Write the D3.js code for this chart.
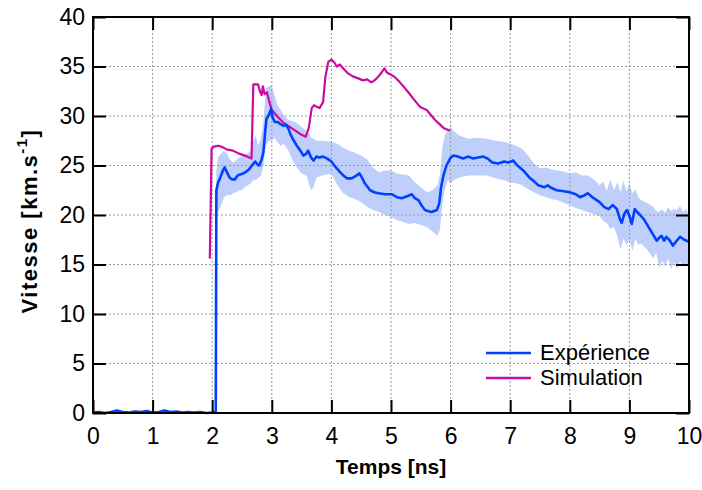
<!DOCTYPE html>
<html><head><meta charset="utf-8">
<script src="https://cdn.jsdelivr.net/npm/d3@7"></script>
<style>
html,body{margin:0;padding:0;background:#fff;}
svg{display:block;font-family:"Liberation Sans",Arial,sans-serif;}
</style></head>
<body><svg id="c" width="702" height="490"></svg>
<script>
// ---- data ----
const xTicks = [0,1,2,3,4,5,6,7,8,9,10];
const yTicks = [0,5,10,15,20,25,30,35,40];
const seriesNames = ["Expérience","Simulation"];

const expT = [0.00,0.10,0.20,0.30,0.40,0.50,0.60,0.70,0.80,0.90,1.00,1.10,1.20,1.30,1.40,1.50,1.60,1.70,1.80,1.90,2.00,2.06,2.07,2.10,2.13,2.18,2.21,2.24,2.29,2.33,2.38,2.43,2.47,2.52,2.55,2.60,2.63,2.68,2.72,2.76,2.79,2.83,2.86,2.89,2.91,2.95,2.99,3.01,3.05,3.10,3.14,3.20,3.24,3.28,3.31,3.36,3.42,3.48,3.53,3.58,3.61,3.66,3.70,3.75,3.80,3.86,3.93,4.00,4.05,4.09,4.15,4.20,4.26,4.34,4.40,4.47,4.52,4.56,4.65,4.72,4.79,4.90,5.01,5.10,5.18,5.27,5.35,5.40,5.46,5.52,5.57,5.62,5.68,5.77,5.81,5.84,5.88,5.93,6.00,6.05,6.12,6.21,6.30,6.38,6.46,6.55,6.62,6.70,6.80,6.90,6.97,7.05,7.12,7.22,7.32,7.40,7.47,7.57,7.63,7.67,7.78,7.90,8.00,8.10,8.17,8.25,8.30,8.40,8.50,8.58,8.65,8.72,8.79,8.84,8.87,8.92,8.96,9.00,9.04,9.09,9.13,9.18,9.25,9.32,9.40,9.46,9.50,9.54,9.58,9.62,9.68,9.73,9.78,9.85,9.92,10.0];
const expV = [0.05,0.1,0.0,0.1,0.25,0.1,0.05,0.15,0.1,0.2,0.05,0.1,0.25,0.1,0.15,0.05,0.1,0.05,0.1,0.0,0.05,0.1,22.5,23.3,23.7,24.5,24.8,24.4,23.8,23.6,23.6,24.0,24.1,24.2,24.3,24.5,24.7,25.1,25.4,25.1,25.0,25.6,26.4,28.5,29.7,30.1,30.7,29.9,29.4,29.4,29.2,29.0,29.1,28.7,28.2,27.6,27.0,26.5,26.0,26.2,26.5,25.8,25.5,25.9,25.8,25.9,25.7,25.4,25.0,24.7,24.3,24.0,23.7,23.7,23.9,24.2,23.7,23.2,22.5,22.3,22.2,22.1,22.1,21.8,21.7,21.9,22.1,21.7,21.5,20.9,20.5,20.4,20.3,20.5,21.2,22.8,24.0,25.0,25.8,26.0,25.9,25.7,25.9,25.7,25.8,25.9,25.7,25.3,25.2,25.4,25.3,25.5,25.0,24.5,23.8,23.4,23.0,22.8,23.0,22.8,22.5,22.4,22.3,22.1,21.8,22.0,22.2,21.7,21.3,20.8,20.6,21.0,20.6,19.6,19.2,20.2,20.5,19.9,19.1,20.6,20.3,20.0,19.5,18.8,18.0,17.4,17.7,17.9,17.4,17.8,17.4,16.9,17.3,17.8,17.5,17.3];

const bandT  = [2.07,2.10,2.15,2.20,2.25,2.30,2.35,2.40,2.45,2.50,2.55,2.60,2.65,2.70,2.73,2.77,2.82,2.86,2.90,2.95,3.00,3.05,3.10,3.15,3.20,3.28,3.35,3.42,3.50,3.58,3.63,3.66,3.70,3.75,3.85,4.00,4.10,4.20,4.30,4.40,4.50,4.60,4.70,4.80,4.90,5.00,5.10,5.20,5.30,5.40,5.50,5.60,5.70,5.78,5.82,5.86,5.90,5.95,6.00,6.05,6.15,6.30,6.45,6.60,6.75,6.90,7.00,7.10,7.20,7.30,7.40,7.50,7.60,7.70,7.80,7.90,8.00,8.10,8.20,8.30,8.40,8.50,8.56,8.62,8.68,8.74,8.80,8.85,8.90,8.95,9.00,9.05,9.10,9.15,9.20,9.30,9.40,9.45,9.50,9.55,9.60,9.65,9.70,9.75,9.80,9.85,9.90,9.95,10.0];
const bandLo = [20.0,20.3,21.0,21.8,22.0,22.0,22.2,22.3,22.5,22.5,22.8,23.0,23.2,23.6,23.5,23.7,24.0,25.0,27.0,27.5,27.5,27.8,27.3,27.0,27.2,26.5,25.5,24.8,24.2,24.0,23.0,22.5,22.8,23.8,24.0,24.2,23.0,22.2,21.8,21.6,21.3,20.8,20.5,20.3,20.0,19.8,19.5,19.3,19.1,19.2,19.0,18.8,18.3,17.9,18.5,21.0,22.5,23.5,23.2,23.5,23.8,24.0,24.0,24.0,23.7,23.5,23.3,23.2,23.0,22.6,22.3,22.0,21.8,21.6,21.5,21.2,21.0,20.7,20.5,20.3,20.1,19.9,19.4,19.2,18.6,18.8,17.8,16.5,17.6,17.0,17.5,16.4,17.6,17.0,17.1,16.5,15.6,16.2,14.7,15.4,14.8,15.6,14.5,15.2,14.6,15.3,14.8,15.1,14.7];
const bandHi = [24.5,25.8,26.2,26.5,26.2,25.6,25.3,25.5,25.8,25.9,26.0,26.3,26.5,27.6,28.0,27.0,27.8,29.5,32.8,33.0,33.1,32.0,31.0,30.6,30.1,29.6,29.5,29.3,28.9,28.5,28.2,27.8,27.7,27.5,27.5,27.4,27.2,26.8,26.5,26.3,26.0,25.6,24.8,24.3,24.5,24.5,24.2,24.1,24.0,23.3,22.8,22.3,22.5,23.0,24.0,26.8,28.0,28.6,28.9,28.5,28.0,27.7,27.8,27.7,27.5,27.4,27.2,27.0,26.7,26.0,25.2,24.7,24.8,24.6,24.5,24.4,24.2,24.3,24.0,24.0,23.6,23.0,23.4,22.4,23.6,22.5,23.3,22.3,23.5,22.4,23.2,22.2,22.6,21.8,21.5,21.2,20.8,20.4,20.3,20.6,20.2,20.8,20.4,20.6,20.5,20.9,20.3,20.6,20.0];

const simT = [1.96,1.99,2.03,2.10,2.16,2.25,2.35,2.45,2.55,2.62,2.66,2.69,2.77,2.80,2.83,2.85,2.88,2.92,2.96,3.00,3.10,3.20,3.30,3.40,3.50,3.57,3.62,3.67,3.71,3.76,3.80,3.86,3.90,3.95,4.00,4.05,4.09,4.14,4.20,4.28,4.36,4.45,4.53,4.60,4.67,4.72,4.76,4.83,4.89,4.93,4.96,5.02,5.07,5.15,5.22,5.29,5.38,5.49,5.60,5.67,5.74,5.81,5.88,5.99];
const simV = [15.6,26.7,26.9,27.0,26.9,26.6,26.5,26.2,26.0,25.8,25.7,33.2,33.2,32.5,32.1,33.0,32.2,32.4,31.4,30.6,29.9,29.3,28.9,28.5,28.1,27.9,28.8,30.8,31.1,30.9,30.8,31.4,34.0,35.5,35.7,35.4,35.0,35.2,34.8,34.3,34.0,33.8,33.6,33.7,33.4,33.6,33.8,34.3,34.8,34.4,34.3,34.1,33.9,33.4,32.9,32.4,31.7,30.9,30.6,30.1,29.6,29.2,28.8,28.5];

// ---- layout ----
const L = 93, R = 689, T = 17, B = 413;
const svg = d3.select("#c");
const x = d3.scaleLinear().domain([0,10]).range([L,R]);
const y = d3.scaleLinear().domain([0,40]).range([B,T]);

// band
const band = bandT.map((t,i)=>({t, lo:bandLo[i], hi:bandHi[i]}));
svg.append("path").datum(band)
  .attr("fill","#bfcffb")
  .attr("d", d3.area().x(d=>x(d.t)).y0(d=>y(d.lo)).y1(d=>y(d.hi)));

// grid
const g = svg.append("g");
g.selectAll(".gx").data(xTicks.filter(v=>v>0&&v<10)).join("line")
  .attr("x1",d=>x(d)).attr("x2",d=>x(d)).attr("y1",T).attr("y2",B)
  .attr("stroke","#9a9a9a").attr("stroke-width",1).attr("stroke-dasharray","2,2");
g.selectAll(".gy").data(yTicks.filter(v=>v>0&&v<40)).join("line")
  .attr("y1",d=>y(d)).attr("y2",d=>y(d)).attr("x1",L).attr("x2",R)
  .attr("stroke","#9a9a9a").attr("stroke-width",1).attr("stroke-dasharray","2,2");

// lines
const exp = expT.map((t,i)=>({t, v:expV[i]}));
const sim = simT.map((t,i)=>({t, v:simV[i]}));
const line = d3.line().x(d=>x(d.t)).y(d=>y(d.v));
svg.append("path").datum(sim).attr("fill","none").attr("stroke","#cc0aa0")
  .attr("stroke-width",2.2).attr("stroke-linejoin","round").attr("d",line);
svg.append("path").datum(exp).attr("fill","none").attr("stroke","#0040ff")
  .attr("stroke-width",2.6).attr("stroke-linejoin","round").attr("d",line);

// axes
const fs = "23px";
const ax = svg.append("g").attr("transform",`translate(0,${B})`)
  .call(d3.axisBottom(x).tickValues(xTicks).tickFormat(d3.format("d")).tickSizeInner(-13).tickSizeOuter(0).tickPadding(15));
const ay = svg.append("g").attr("transform",`translate(${L},0)`)
  .call(d3.axisLeft(y).tickValues(yTicks).tickFormat(d3.format("d")).tickSizeInner(-13).tickSizeOuter(0).tickPadding(8));
const axTop = svg.append("g").attr("transform",`translate(0,${T})`)
  .call(d3.axisTop(x).tickValues(xTicks).tickFormat("").tickSizeInner(-13).tickSizeOuter(0));
const ayR = svg.append("g").attr("transform",`translate(${R},0)`)
  .call(d3.axisRight(y).tickValues(yTicks).tickFormat("").tickSizeInner(-13).tickSizeOuter(0));
[ax,ay,axTop,ayR].forEach(a=>{
  a.select(".domain").remove();
  a.selectAll(".tick line").attr("stroke","#000").attr("stroke-width",2);
  a.selectAll("text").attr("font-size",fs).attr("fill","#000").attr("font-family","'Liberation Sans',Arial,sans-serif");
});
svg.append("rect").attr("x",L).attr("y",T).attr("width",R-L).attr("height",B-T)
  .attr("fill","none").attr("stroke","#000").attr("stroke-width",2);

// titles
svg.append("text").attr("x",(L+R)/2).attr("y",474).attr("text-anchor","middle")
  .attr("font-size","21px").attr("font-weight","bold").text("Temps [ns]");
const yt = svg.append("text").attr("transform",`translate(37,${(T+B)/2+6}) rotate(-90)`)
  .attr("text-anchor","middle").attr("font-size","22px").attr("font-weight","bold")
  .attr("letter-spacing","1.5px");
yt.append("tspan").text("Vitesse [km.s");
yt.append("tspan").attr("dy",-10).attr("font-size","15px").text("-1");
yt.append("tspan").attr("dy",10).text("]");

// legend
const legColors = ["#0040ff","#cc0aa0"];
const leg = svg.append("g");
seriesNames.forEach((n,i)=>{
  const yy = 353 + i*25;
  leg.append("line").attr("x1",486).attr("x2",531).attr("y1",yy).attr("y2",yy)
    .attr("stroke",legColors[i]).attr("stroke-width",2.4);
  leg.append("text").attr("x",540).attr("y",yy+7).attr("font-size","22px").text(n);
});
</script></body></html>
